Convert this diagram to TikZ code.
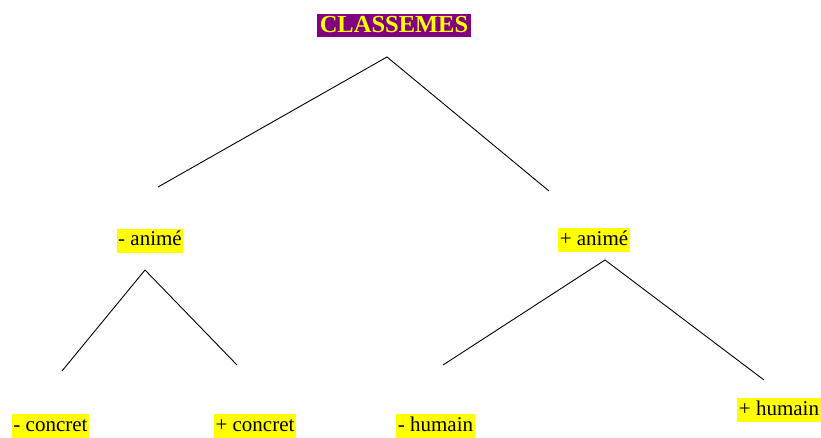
\documentclass[tikz,border=0pt]{standalone}
\usepackage{fontspec}
\setmainfont{Liberation Serif}
\definecolor{tpurple}{HTML}{800080}
\definecolor{tyellow}{HTML}{FFFF00}
\begin{document}
\begin{tikzpicture}[x=1pt,y=-1pt,
  lbl/.style={fill=tyellow, inner xsep=1.5pt, inner ysep=2pt, text height=15pt, text depth=5pt,
    font=\fontsize{21}{23}\selectfont},
  title/.style={fill=tpurple, text=tyellow, inner xsep=3pt, inner ysep=1pt, text height=17pt, text depth=4pt,
    font=\fontsize{24.5}{26}\selectfont\bfseries},
  branch/.style={draw=black, line width=0.9pt}]
\clip (0,0) rectangle (821,438);
\fill[white] (0,0) rectangle (821,438);
% labels
\node[title] (root) at (394,26) {CLASSEMES};
\node[lbl] (na) at (150,241) {- animé};
\node[lbl] (pa) at (594,240) {+ animé};
\node[lbl] (nc) at (50.5,426) {- concret};
\node[lbl] (pc) at (255,426) {+ concret};
\node[lbl] (nh) at (435.5,426) {- humain};
\node[lbl] (ph) at (779,410) {+ humain};
% branch points
\coordinate (top) at (387,57);
\coordinate (topL) at (158,187);
\coordinate (topR) at (549,191);
\coordinate (la) at (145,270);
\coordinate (laL) at (62,371);
\coordinate (laR) at (237,365);
\coordinate (ra) at (605,260);
\coordinate (raL) at (443,365);
\coordinate (raR) at (764,380);
\draw[branch] (topL) -- (top) -- (topR);
\draw[branch] (laL) -- (la) -- (laR);
\draw[branch] (raL) -- (ra) -- (raR);
\end{tikzpicture}
\end{document}
